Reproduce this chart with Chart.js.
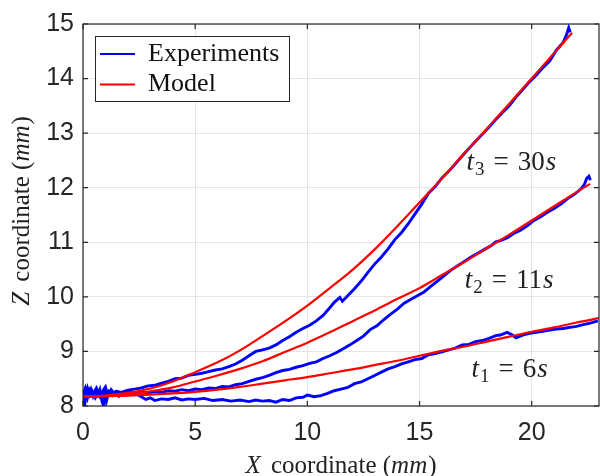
<!DOCTYPE html>
<html lang="en">
<head>
<meta charset="UTF-8">
<title>Z coordinate vs X coordinate</title>
<script src="https://cdn.jsdelivr.net/npm/chart.js"></script>
<style>
  html, body { margin: 0; padding: 0; background: #fff; }
  #wrap { width: 600px; height: 476px; }
</style>
</head>
<body>
<div id="wrap"><canvas id="chart"></canvas></div>
<script>
// axis ticks
const xTicks = [0, 5, 10, 15, 20]
const yTicks = [8, 9, 10, 11, 12, 13, 14, 15]

// legend labels
const legendLabels = ['Experiments', 'Model']

// experiments, t1 = 6s
const exp6X = [0, 0.08, 0.15, 0.25, 0.35, 0.45, 0.55, 0.65, 0.75, 0.85, 0.92, 0.98, 1.05, 1.15, 1.3, 1.45, 1.6, 1.8, 2.0, 2.2, 2.4, 2.6, 2.8, 3.0, 3.2, 3.5, 3.8, 4.1, 4.4, 4.7, 5.0, 5.4, 5.8, 6.2, 6.6, 7.0, 7.4, 7.7, 8.0, 8.3, 8.6, 8.9, 9.2, 9.5, 9.8, 10.0, 10.3, 10.6, 10.9, 11.2, 11.5, 11.8, 12.1, 12.4, 12.7, 13.0, 13.3, 13.6, 13.9, 14.2, 14.5, 14.8, 15.1, 15.4, 15.7, 16.0, 16.3, 16.6, 16.9, 17.2, 17.5, 17.8, 18.1, 18.4, 18.6, 18.9, 19.1, 19.3, 19.6, 19.9, 20.2, 20.5, 20.8, 21.1, 21.4, 21.7, 22.0, 22.3, 22.6, 22.95]
const exp6Y = [8.25, 8.02, 8.30, 8.22, 8.31, 8.18, 8.28, 8.20, 8.30, 8.08, 8.00, 8.34, 8.10, 8.26, 8.19, 8.26, 8.18, 8.24, 8.20, 8.25, 8.21, 8.17, 8.12, 8.15, 8.10, 8.13, 8.12, 8.15, 8.11, 8.13, 8.12, 8.14, 8.10, 8.12, 8.09, 8.11, 8.08, 8.11, 8.09, 8.10, 8.07, 8.12, 8.10, 8.15, 8.16, 8.20, 8.17, 8.19, 8.23, 8.28, 8.31, 8.34, 8.41, 8.44, 8.50, 8.56, 8.62, 8.68, 8.72, 8.77, 8.81, 8.85, 8.87, 8.94, 8.96, 8.99, 9.03, 9.06, 9.12, 9.13, 9.18, 9.20, 9.24, 9.29, 9.30, 9.35, 9.31, 9.25, 9.30, 9.33, 9.35, 9.37, 9.39, 9.41, 9.42, 9.44, 9.46, 9.49, 9.52, 9.56]

// experiments, t2 = 11s
const exp11X = [0, 0.1, 0.2, 0.3, 0.45, 0.6, 0.75, 0.9, 1.0, 1.1, 1.25, 1.4, 1.6, 1.8, 2.0, 2.3, 2.6, 2.9, 3.2, 3.5, 3.8, 4.1, 4.4, 4.7, 5.0, 5.3, 5.6, 5.9, 6.2, 6.5, 6.8, 7.1, 7.4, 7.7, 8.0, 8.3, 8.6, 8.9, 9.2, 9.5, 9.8, 10.1, 10.4, 10.7, 11.0, 11.3, 11.6, 11.9, 12.2, 12.5, 12.8, 13.1, 13.4, 13.7, 14.0, 14.3, 14.6, 14.9, 15.2, 15.5, 15.8, 16.1, 16.4, 16.7, 17.0, 17.3, 17.6, 17.9, 18.2, 18.4, 18.6, 18.9, 19.2, 19.5, 19.8, 20.1, 20.4, 20.7, 21.0, 21.3, 21.6, 21.9, 22.2, 22.35, 22.45, 22.55, 22.62]
const exp11Y = [8.20, 8.32, 8.15, 8.30, 8.22, 8.33, 8.18, 8.29, 8.35, 8.20, 8.30, 8.22, 8.25, 8.22, 8.26, 8.23, 8.26, 8.24, 8.27, 8.25, 8.28, 8.27, 8.30, 8.28, 8.31, 8.30, 8.33, 8.32, 8.36, 8.35, 8.39, 8.41, 8.45, 8.49, 8.52, 8.56, 8.61, 8.65, 8.67, 8.71, 8.74, 8.78, 8.81, 8.87, 8.92, 8.98, 9.05, 9.12, 9.20, 9.28, 9.40, 9.47, 9.58, 9.68, 9.77, 9.88, 9.95, 10.02, 10.09, 10.19, 10.29, 10.39, 10.49, 10.57, 10.65, 10.73, 10.80, 10.87, 10.94, 11.01, 11.03, 11.08, 11.16, 11.22, 11.30, 11.40, 11.47, 11.55, 11.62, 11.70, 11.80, 11.88, 11.98, 12.06, 12.17, 12.21, 12.14]

// experiments, t3 = 30s
const exp30X = [0, 0.1, 0.2, 0.3, 0.4, 0.55, 0.7, 0.85, 1.0, 1.1, 1.3, 1.5, 1.7, 2.0, 2.3, 2.6, 2.9, 3.2, 3.5, 3.8, 4.1, 4.4, 4.7, 5.0, 5.3, 5.6, 5.9, 6.2, 6.5, 6.8, 7.1, 7.4, 7.7, 8.0, 8.3, 8.6, 8.9, 9.2, 9.5, 9.8, 10.1, 10.4, 10.7, 11.0, 11.2, 11.45, 11.56, 11.8, 12.1, 12.4, 12.7, 13.0, 13.3, 13.6, 13.9, 14.2, 14.5, 14.8, 15.1, 15.4, 15.7, 16.0, 16.3, 16.6, 16.9, 17.2, 17.5, 17.8, 18.1, 18.4, 18.7, 19.0, 19.3, 19.6, 19.9, 20.2, 20.5, 20.8, 21.1, 21.4, 21.55, 21.65, 21.72]
const exp30Y = [8.30, 8.18, 8.33, 8.20, 8.28, 8.15, 8.26, 8.22, 8.30, 8.25, 8.22, 8.27, 8.25, 8.29, 8.31, 8.33, 8.37, 8.38, 8.42, 8.45, 8.50, 8.51, 8.56, 8.58, 8.60, 8.63, 8.66, 8.68, 8.72, 8.77, 8.84, 8.92, 9.00, 9.03, 9.06, 9.12, 9.20, 9.27, 9.35, 9.42, 9.48, 9.56, 9.66, 9.80, 9.90, 9.99, 9.92, 10.02, 10.15, 10.29, 10.45, 10.60, 10.73, 10.88, 11.05, 11.18, 11.34, 11.52, 11.70, 11.90, 12.02, 12.18, 12.30, 12.44, 12.58, 12.72, 12.85, 12.98, 13.11, 13.25, 13.38, 13.50, 13.66, 13.80, 13.94, 14.06, 14.20, 14.32, 14.52, 14.66, 14.80, 14.93, 14.85]

// model curves
const model6X = [0, 1, 2, 3, 4, 5, 6, 7, 8, 9, 10, 11, 12, 13, 14, 15, 16, 17, 18, 19, 20, 21, 22, 23]
const model6Y = [8.17, 8.18, 8.19, 8.21, 8.23, 8.26, 8.30, 8.35, 8.41, 8.47, 8.53, 8.60, 8.67, 8.75, 8.83, 8.92, 9.01, 9.09, 9.18, 9.27, 9.36, 9.44, 9.53, 9.61]
const model11X = [0, 1, 2, 3, 4, 5, 6, 7, 8, 9, 10, 11, 12, 13, 14, 15, 16, 17, 18, 19, 20, 21, 22, 22.6]
const model11Y = [8.17, 8.18, 8.21, 8.27, 8.34, 8.45, 8.56, 8.68, 8.82, 8.99, 9.16, 9.35, 9.55, 9.75, 9.96, 10.16, 10.40, 10.64, 10.89, 11.14, 11.40, 11.66, 11.92, 12.07]
const model30X = [0, 1, 2, 3, 4, 5, 6, 7, 8, 9, 10, 11, 12, 13, 14, 15, 16, 17, 18, 19, 20, 21, 21.8]
const model30Y = [8.17, 8.19, 8.24, 8.32, 8.45, 8.62, 8.80, 9.02, 9.28, 9.55, 9.84, 10.16, 10.49, 10.87, 11.29, 11.73, 12.17, 12.63, 13.08, 13.54, 14.00, 14.47, 14.84]

// curve labels (t_i = ...s), anchored in data units
const annoSub = ['3', '2', '1']
const annoVal = ['30', '11', '6']
const annoX = [17.09, 17.02, 17.32]
const annoY = [12.33, 10.17, 8.53]

const pts = (xs, ys) => xs.map((v, i) => ({ x: v, y: ys[i] }))

const BLUE = '#0000ff'
const RED = '#ff0000'
const INK = '#262626'
const SERIF = '"Liberation Serif", "Times New Roman", serif'

function expSet(label, xs, ys) {
  return { label, data: pts(xs, ys), borderColor: BLUE, borderWidth: 2.9, showLine: true, pointRadius: 0, tension: 0, order: 2 }
}
function modelSet(label, xs, ys) {
  return { label, data: pts(xs, ys), borderColor: RED, borderWidth: 2.2, showLine: true, pointRadius: 0, cubicInterpolationMode: 'monotone', order: 1 }
}

// draw a run of text pieces with different fonts
function drawRuns(ctx, runs, x, y, align) {
  let w = 0
  runs.forEach(r => { ctx.font = r.f; w += ctx.measureText(r.t).width + (r.gap || 0) })
  let cx = align === 'center' ? x - w / 2 : x
  runs.forEach(r => {
    ctx.font = r.f
    ctx.fillText(r.t, cx, y + (r.dy || 0))
    cx += ctx.measureText(r.t).width + (r.gap || 0)
  })
}

const decor = {
  id: 'decor',
  afterDraw(chart) {
    const { ctx, chartArea: a, scales: { x, y } } = chart
    ctx.save()
    // axes box
    ctx.strokeStyle = INK
    ctx.lineWidth = 1.2
    ctx.strokeRect(a.left, a.top, a.right - a.left, a.bottom - a.top)
    // inward ticks
    ctx.beginPath()
    xTicks.forEach(v => {
      const px = x.getPixelForValue(v)
      ctx.moveTo(px, a.bottom); ctx.lineTo(px, a.bottom - 5)
      ctx.moveTo(px, a.top); ctx.lineTo(px, a.top + 5)
    })
    yTicks.forEach(v => {
      const py = y.getPixelForValue(v)
      ctx.moveTo(a.left, py); ctx.lineTo(a.left + 5, py)
      ctx.moveTo(a.right, py); ctx.lineTo(a.right - 5, py)
    })
    ctx.stroke()

    // legend
    const lx = a.left + 12, ly = a.top + 12
    ctx.fillStyle = '#fff'
    ctx.fillRect(lx, ly, 194, 65)
    ctx.lineWidth = 1
    ctx.strokeStyle = INK
    ctx.strokeRect(lx + 0.5, ly + 0.5, 194, 65)
    const colors = [BLUE, RED]
    legendLabels.forEach((t, i) => {
      const yy = ly + 18 + i * 30.5
      ctx.strokeStyle = colors[i]
      ctx.lineWidth = 2.2
      ctx.beginPath(); ctx.moveTo(lx + 5, yy); ctx.lineTo(lx + 40, yy); ctx.stroke()
      ctx.fillStyle = '#111'
      ctx.font = '26px ' + SERIF
      ctx.textBaseline = 'alphabetic'
      ctx.textAlign = 'left'
      ctx.fillText(t, lx + 53, yy + 6.5)
    })

    // axis titles
    ctx.fillStyle = '#222'
    ctx.textAlign = 'left'
    ctx.textBaseline = 'alphabetic'
    const reg = '25px ' + SERIF, ita = 'italic 25px ' + SERIF
    drawRuns(ctx, [{ t: 'X', f: ita, gap: 4 }, { t: ' coordinate (', f: reg }, { t: 'mm', f: ita, gap: 1 }, { t: ')', f: reg }], (a.left + a.right) / 2, 473, 'center')
    ctx.save()
    ctx.translate(29, (a.top + a.bottom) / 2 - 4)
    ctx.rotate(-Math.PI / 2)
    drawRuns(ctx, [{ t: 'Z', f: ita, gap: 4 }, { t: ' coordinate (', f: reg }, { t: 'mm', f: ita, gap: 1 }, { t: ')', f: reg }], 0, 0, 'center')
    ctx.restore()

    // curve labels
    const big = '27px ' + SERIF, bigI = 'italic 27px ' + SERIF, small = '19px ' + SERIF
    annoSub.forEach((s, i) => {
      const px = x.getPixelForValue(annoX[i]), py = y.getPixelForValue(annoY[i])
      drawRuns(ctx, [
        { t: 't', f: bigI, gap: 1 },
        { t: s, f: small, dy: 5, gap: 9 },
        { t: '=', f: big, gap: 9 },
        { t: annoVal[i], f: big, gap: 1 },
        { t: 's', f: bigI }
      ], px, py, 'left')
    })
    ctx.restore()
  }
}

new Chart(document.getElementById('chart'), {
  type: 'scatter',
  data: {
    datasets: [
      expSet('Experiments t1', exp6X, exp6Y),
      expSet('Experiments t2', exp11X, exp11Y),
      expSet('Experiments t3', exp30X, exp30Y),
      modelSet('Model t1', model6X, model6Y),
      modelSet('Model t2', model11X, model11Y),
      modelSet('Model t3', model30X, model30Y)
    ]
  },
  options: {
    responsive: true,
    maintainAspectRatio: false,
    animation: false,
    layout: { padding: { top: 19, right: 1, left: 0, bottom: 0 } },
    plugins: { legend: { display: false }, tooltip: { enabled: false } },
    scales: {
      x: {
        type: 'linear', min: 0, max: 23,
        afterBuildTicks: s => { s.ticks = xTicks.map(v => ({ value: v })) },
        afterFit: s => { s.height = 70 },
        grid: { color: '#e5e5e5', lineWidth: 1, drawTicks: false },
        border: { display: false },
        ticks: { color: INK, padding: 12, maxRotation: 0, font: { family: '"Liberation Sans", Arial, sans-serif', size: 25 } }
      },
      y: {
        type: 'linear', min: 8, max: 15,
        afterBuildTicks: s => { s.ticks = yTicks.map(v => ({ value: v })) },
        afterFit: s => { s.width = 83 },
        grid: { color: '#e5e5e5', lineWidth: 1, drawTicks: false },
        border: { display: false },
        ticks: { color: INK, padding: 9, font: { family: '"Liberation Sans", Arial, sans-serif', size: 25 } }
      }
    }
  },
  plugins: [decor]
})
</script>
</body>
</html>
